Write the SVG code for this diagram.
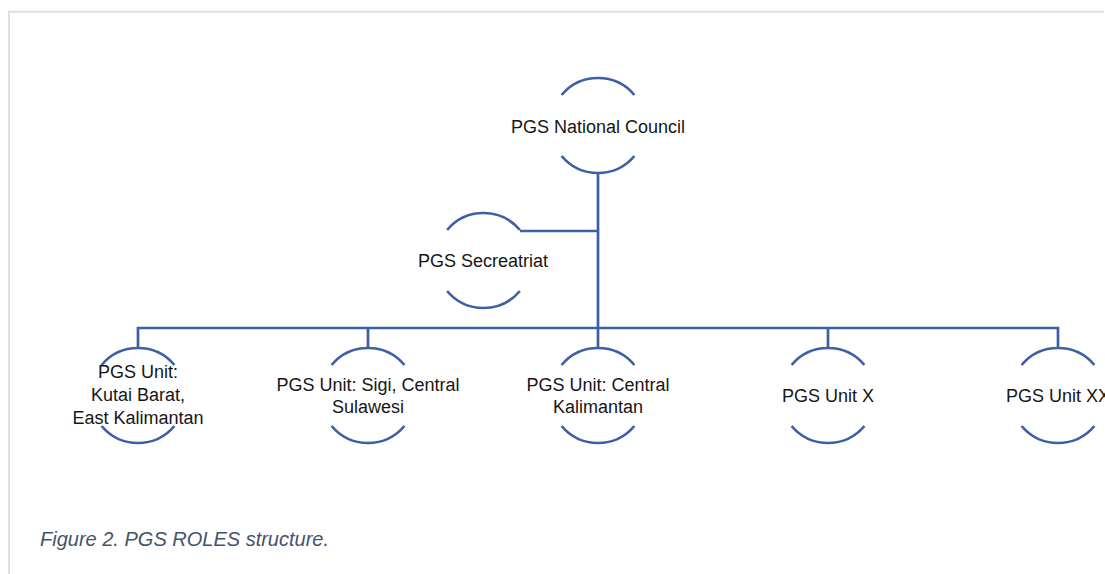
<svg xmlns="http://www.w3.org/2000/svg" width="1105" height="574" viewBox="0 0 1105 574">
<style>
.arc{fill:none;stroke:#3c5fa6;stroke-width:2.7;}
.con{fill:none;stroke:#3c5fa6;stroke-width:2.7;}
.lbl{font-family:"Liberation Sans",Arial,sans-serif;font-size:18px;fill:#161616;text-anchor:middle;}
.cap{font-family:"Liberation Sans",Arial,sans-serif;font-size:20px;font-style:italic;fill:#44546a;}
</style>
<rect width="1105" height="574" fill="#ffffff"/>
<path d="M9,574 V11.7 H1104" fill="none" stroke="#e4e0d5" stroke-width="2"/>
<g id="connectors">
<path class="con" d="M598,173 V348"/>
<path class="con" d="M520,231 H598"/>
<path class="con" d="M138,348 V328 H1058 V348"/>
<path class="con" d="M368,328 V348"/>
<path class="con" d="M828,328 V348"/>
</g>
<g id="national-council">
<path class="arc" d="M561.6,95 A47.5,47.5 0 0 1 634.4,95"/>
<path class="arc" d="M561.6,156 A47.5,47.5 0 0 0 634.4,156"/>
<text class="lbl" x="598" y="132.5">PGS National Council</text>
</g>
<g id="secretariat">
<path class="arc" d="M447.1,230 A47.5,47.5 0 0 1 519.9,230"/>
<path class="arc" d="M447.1,291 A47.5,47.5 0 0 0 519.9,291"/>
<text class="lbl" x="483" y="267">PGS Secreatriat</text>
</g>
<g id="unit-kutai">
<path class="arc" d="M101.6,365 A47.5,47.5 0 0 1 174.4,365"/>
<path class="arc" d="M101.6,426 A47.5,47.5 0 0 0 174.4,426"/>
<text class="lbl" x="138" y="378">PGS Unit:</text>
<text class="lbl" x="138" y="401">Kutai Barat,</text>
<text class="lbl" x="138" y="424">East Kalimantan</text>
</g>
<g id="unit-sigi">
<path class="arc" d="M331.6,365 A47.5,47.5 0 0 1 404.4,365"/>
<path class="arc" d="M331.6,426 A47.5,47.5 0 0 0 404.4,426"/>
<text class="lbl" x="368" y="390.5">PGS Unit: Sigi, Central</text>
<text class="lbl" x="368" y="413">Sulawesi</text>
</g>
<g id="unit-central-kalimantan">
<path class="arc" d="M561.6,365 A47.5,47.5 0 0 1 634.4,365"/>
<path class="arc" d="M561.6,426 A47.5,47.5 0 0 0 634.4,426"/>
<text class="lbl" x="598" y="390.5">PGS Unit: Central</text>
<text class="lbl" x="598" y="413">Kalimantan</text>
</g>
<g id="unit-x">
<path class="arc" d="M791.6,365 A47.5,47.5 0 0 1 864.4,365"/>
<path class="arc" d="M791.6,426 A47.5,47.5 0 0 0 864.4,426"/>
<text class="lbl" x="828" y="402">PGS Unit X</text>
</g>
<g id="unit-xx">
<path class="arc" d="M1021.6,365 A47.5,47.5 0 0 1 1094.4,365"/>
<path class="arc" d="M1021.6,426 A47.5,47.5 0 0 0 1094.4,426"/>
<text class="lbl" x="1058" y="402">PGS Unit XX</text>
</g>
<text class="cap" x="40" y="546">Figure 2. PGS ROLES structure.</text>
</svg>
